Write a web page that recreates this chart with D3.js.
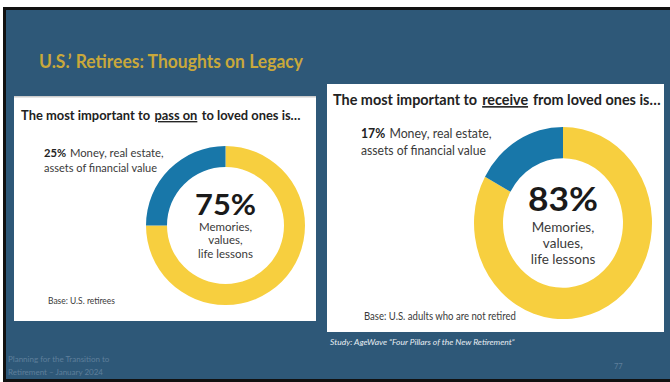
<!DOCTYPE html>
<html>
<head>
<meta charset="utf-8">
<script src="https://cdn.jsdelivr.net/npm/d3@7"></script>
<style>
  html, body { margin: 0; padding: 0; background: #fff; }
  svg { display: block; }
  text { font-family: Lato, "Open Sans", sans-serif; }
</style>
</head>
<body>
<div id="chart"></div>
<script>
// data
var categories = ['Money, real estate, assets of financial value', 'Memories, values, life lessons'];
var passOnValues = [25, 75];
var receiveValues = [17, 83];
var colors = ['#1877a9', '#f7cf3f'];

var W = 670, H = 382;
var svg = d3.select('#chart').append('svg')
    .attr('width', W)
    .attr('height', H);

// squeeze a text horizontally to the width it has on the slide
function fit(sel, width) {
    var w = sel.node().getComputedTextLength();
    var x = +sel.attr('x'), y = +sel.attr('y');
    sel.attr('x', 0).attr('y', 0)
        .attr('transform', 'translate(' + x + ',' + y + ') scale(' + (width / w) + ',1)');
    return sel;
}

// a line made of several pieces, each its own text, squeezed together to a width
function pieces(g, x, y, parts, width, size, weight) {
    var els = parts.map(function(p) {
        return g.append('text')
            .attr('y', y)
            .attr('fill', p.fill || '#3a3a3a')
            .style('font-size', size + 'px')
            .style('font-weight', p.bold ? 'bold' : weight)
            .style('text-decoration', p.under ? 'underline' : null)
            .text(p.t);
    });
    var gaps = parts.map(p => p.gap || 0);
    var widths = els.map(e => e.node().getComputedTextLength());
    var k = (width - d3.sum(gaps)) / d3.sum(widths);
    var cx = x;
    els.forEach(function(e, i) {
        cx += gaps[i];
        e.attr('x', cx);
        fit(e, widths[i] * k - 0.3);
        cx += widths[i] * k;
    });
}

// slide frame
svg.append('rect').attr('x', 3).attr('y', 7).attr('width', 667).attr('height', 375).attr('fill', '#111');
svg.append('rect').attr('x', 6).attr('y', 10).attr('width', 664).attr('height', 369).attr('fill', '#2e5878');

fit(svg.append('text')
    .attr('x', 39).attr('y', 68)
    .attr('fill', '#c9a83b')
    .style('font-size', '19px')
    .style('font-weight', 'bold')
    .text('U.S.\u2019 Retirees:  Thoughts on Legacy'), 264);

function panel(opt) {
    var g = svg.append('g');
    g.append('rect')
        .attr('x', opt.x).attr('y', opt.y)
        .attr('width', opt.w).attr('height', opt.h)
        .attr('fill', '#fff');
    if (opt.topLine) {
        g.append('rect').attr('x', opt.x).attr('y', opt.y).attr('width', opt.w).attr('height', 1.5).attr('fill', '#ccc');
    }

    // header with underlined word
    pieces(g, opt.hx, opt.hy, [
        {t: opt.head[0], fill: '#222'},
        {t: opt.head[1], fill: '#222', under: true, gap: opt.hgap},
        {t: opt.head[2], fill: '#222', gap: opt.hgap}
    ], opt.hw, opt.hsize, 'bold');

    // donut
    var pie = d3.pie().sort(null).value(d => d)
        .startAngle(0).endAngle(2 * Math.PI);
    var arcs = pie(opt.values.slice().reverse());
    var arc = d3.arc().innerRadius(opt.ri).outerRadius(opt.ro);
    var dg = g.append('g')
        .attr('transform', 'translate(' + opt.cx + ',' + opt.cy + ') scale(1,' + opt.sy + ')');
    dg.selectAll('path')
        .data(arcs)
        .enter().append('path')
        .attr('d', arc)
        .attr('fill', (d, i) => colors[1 - i]);

    // small share label
    pieces(g, opt.lx, opt.ly, [
        {t: opt.values[0] + '%', fill: '#222', bold: true},
        {t: 'Money, real estate,', gap: opt.lsize * 0.3}
    ], opt.lw[0], opt.lsize, 'normal');
    fit(g.append('text')
        .attr('x', opt.lx).attr('y', opt.ly + opt.lgap)
        .attr('fill', '#3a3a3a')
        .style('font-size', opt.lsize + 'px')
        .text('assets of financial value'), opt.lw[1]);

    // big center value
    fit(g.append('text')
        .attr('x', opt.cx).attr('y', opt.by)
        .attr('text-anchor', 'middle')
        .attr('fill', '#1a1a1a')
        .style('font-size', opt.bsize + 'px')
        .style('font-weight', 'bold')
        .text(opt.values[1] + '%'), opt.bw);
    ['Memories,', 'values,', 'life lessons'].forEach(function(t, i) {
        g.append('text')
            .attr('x', opt.cx).attr('y', opt.my + i * opt.mgap)
            .attr('text-anchor', 'middle')
            .attr('fill', '#3a3a3a')
            .style('font-size', opt.msize + 'px')
            .text(t);
    });

    fit(g.append('text')
        .attr('x', opt.bx).attr('y', opt.bsy)
        .attr('fill', '#3a3a3a')
        .style('font-size', opt.bssize + 'px')
        .text(opt.base), opt.bsw);
}

panel({
    x: 14, y: 96, w: 302, h: 225, topLine: true,
    head: ['The most important to', 'pass on', 'to loved ones is\u2026'],
    hx: 21, hy: 120, hsize: 13.5, hw: 280, hgap: 4,
    values: passOnValues,
    cx: 225.5, cy: 225.5, ri: 58.5, ro: 79.5, sy: 1,
    lx: 44, ly: 157, lgap: 14.5, lsize: 11.5, lw: [120, 113],
    by: 215, bsize: 29, bw: 61,
    my: 231, mgap: 13.3, msize: 11.5,
    bx: 48, bsy: 304, bssize: 9.5, bsw: 67,
    base: 'Base: U.S. retirees'
});

panel({
    x: 327, y: 84, w: 337, h: 248, topLine: false,
    head: ['The most important to', 'receive', 'from loved ones is\u2026'],
    hx: 333, hy: 105, hsize: 16, hw: 328, hgap: 4.5,
    values: receiveValues,
    cx: 563, cy: 223, ri: 60, ro: 89, sy: 1.08,
    lx: 361, ly: 138, lgap: 16.5, lsize: 13, lw: [131, 125],
    by: 211, bsize: 32, bw: 70,
    my: 232, mgap: 16.2, msize: 13.5,
    bx: 364, bsy: 320, bssize: 11.5, bsw: 152,
    base: 'Base: U.S. adults who are not retired'
});

fit(svg.append('text')
    .attr('x', 330).attr('y', 345)
    .attr('fill', '#e6ecf2')
    .style('font-size', '7.5px')
    .style('font-style', 'italic')
    .text('Study: AgeWave \u201cFour Pillars of the New Retirement\u201d'), 185);

['Planning for the Transition to', 'Retirement \u2013 January 2024'].forEach(function(t, i) {
    svg.append('text')
        .attr('x', 8).attr('y', 362 + i * 13)
        .attr('fill', '#5e7f9b')
        .style('font-size', '8px')
        .text(t);
});
svg.append('text')
    .attr('x', 614).attr('y', 369)
    .attr('fill', '#5e7f9b')
    .style('font-size', '7.5px')
    .text('77');
</script>
</body>
</html>
